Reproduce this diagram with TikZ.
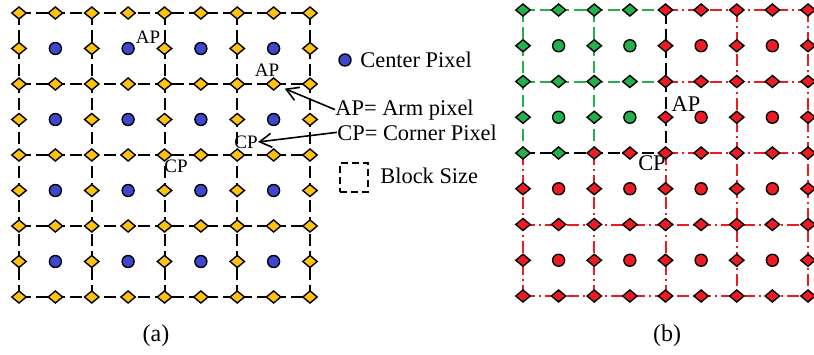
\documentclass[tikz,border=0pt]{standalone}
\usepackage{fontspec}
\setmainfont{Liberation Serif}
\usetikzlibrary{shapes.geometric,arrows.meta}

\definecolor{pixgold}{HTML}{FFC20E}
\definecolor{pixblue}{HTML}{3F48CC}
\definecolor{pixgreen}{HTML}{22B14C}
\definecolor{pixred}{HTML}{ED1C24}

\tikzset{
  edgepix/.style={diamond,aspect=1.2,draw=black,line width=0.7pt,fill=#1,inner sep=0pt,minimum width=7.5pt,minimum height=6.3pt},
  cenpix/.style={circle,draw=black,line width=0.7pt,fill=#1,inner sep=0pt,minimum size=6pt},
  blkline/.style={black,line width=1pt,dash pattern=on 6pt off 2.5pt},
  grnline/.style={pixgreen,line width=1pt,dash pattern=on 6pt off 2.5pt},
  redline/.style={pixred,line width=1pt,dash pattern=on 6pt off 2pt on 1pt off 2pt},
  smalltxt/.style={inner sep=0pt,font=\fontsize{9.5}{11}\selectfont},
  legtxt/.style={inner sep=0pt,font=\fontsize{11.2}{13}\selectfont},
  arm/.style={-{Straight Barb[length=6pt,width=7pt]},line width=0.8pt}
}

\begin{document}
\begin{tikzpicture}[x=0.5pt,y=-0.5pt]
  \useasboundingbox (0,0) rectangle (814,354);

  %% (a) 4x4 blocks
  \foreach \i in {0,...,8}
    \foreach \j in {0,...,8}
      \coordinate (a-\i-\j) at ({19+36.375*\i},{13+35.5*\j});
  \foreach \k in {0,2,4,6,8} {
    \draw[blkline] (a-\k-0) -- (a-\k-8);
    \draw[blkline] (a-0-\k) -- (a-8-\k);
  }
  \foreach \i in {0,...,8}
    \foreach \j in {0,...,8} {
      \pgfmathtruncatemacro\odd{mod(\i,2)*mod(\j,2)}
      \ifnum\odd=1
        \node[cenpix=pixblue] (pa-\i-\j) at (a-\i-\j) {};
      \else
        \node[edgepix=pixgold] (pa-\i-\j) at (a-\i-\j) {};
      \fi
    }

  \node[smalltxt] (apa) at (148,37) {AP};
  \node[smalltxt] (apb) at (267,70) {AP};
  \node[smalltxt] (cpa) at (246,142) {CP};
  \node[smalltxt] (cpb) at (176,166) {CP};

  % legend
  \node[cenpix=pixblue] (lgcen) at (345,60) {};
  \node[legtxt,anchor=base west] (txcen) at (360,67) {Center Pixel};
  \node[legtxt,anchor=base west] (txap) at (335,115) {AP= Arm pixel};
  \node[legtxt,anchor=base west] (txcp) at (337,140) {CP= Corner Pixel};
  \node[draw,line width=0.8pt,dash pattern=on 3.5pt off 2pt,inner sep=0pt,
        minimum width=14pt,minimum height=14.5pt] (lgblk) at (354,177.5) {};
  \node[legtxt,anchor=base west] (txblk) at (380,183) {Block Size};

  \draw[arm] (txap.west) -- (pa-7-2) [shorten >=3pt];
  \draw[arm] (txcp.west) -- (cpa.east);

  \node[font=\fontsize{12}{14}\selectfont] (capa) at (156,336) {(a)};

  %% (b) merged blocks
  \foreach \i in {0,...,8}
    \foreach \j in {0,...,8}
      \coordinate (b-\i-\j) at ({523+35.625*\i},{10+35.75*\j});
  % green 2x2 block
  \draw[grnline] (b-0-0) -- (b-4-0);
  \draw[grnline] (b-0-2) -- (b-4-2);
  \draw[grnline] (b-0-0) -- (b-0-4);
  \draw[grnline] (b-2-0) -- (b-2-4);
  \draw[blkline] (b-0-4) -- (b-4-4) -- (b-4-0);
  % red blocks
  \draw[redline] (b-4-0) -- (b-8-0);
  \draw[redline] (b-4-2) -- (b-8-2);
  \draw[redline] (b-4-4) -- (b-8-4);
  \draw[redline] (b-0-6) -- (b-8-6);
  \draw[redline] (b-0-8) -- (b-8-8);
  \draw[redline] (b-0-4) -- (b-0-8);
  \draw[redline] (b-2-4) -- (b-2-8);
  \draw[redline] (b-4-4) -- (b-4-8);
  \draw[redline] (b-6-0) -- (b-6-8);
  \draw[redline] (b-8-0) -- (b-8-8);
  \foreach \i in {0,...,8}
    \foreach \j in {0,...,8} {
      \pgfmathtruncatemacro\odd{mod(\i,2)*mod(\j,2)}
      \pgfmathtruncatemacro\grn{or(and(\i<4,\j<4),and(\j==4,\i<2))}
      \ifnum\grn=1 \def\pc{pixgreen}\else\def\pc{pixred}\fi
      \ifnum\odd=1
        \node[cenpix=\pc] (pb-\i-\j) at (b-\i-\j) {};
      \else
        \node[edgepix=\pc] (pb-\i-\j) at (b-\i-\j) {};
      \fi
    }

  \node[legtxt] (apc) at (686,104) {AP};
  \node[legtxt] (cpc) at (652,163) {CP};

  \node[font=\fontsize{12}{14}\selectfont] (capb) at (667,336) {(b)};
\end{tikzpicture}
\end{document}
